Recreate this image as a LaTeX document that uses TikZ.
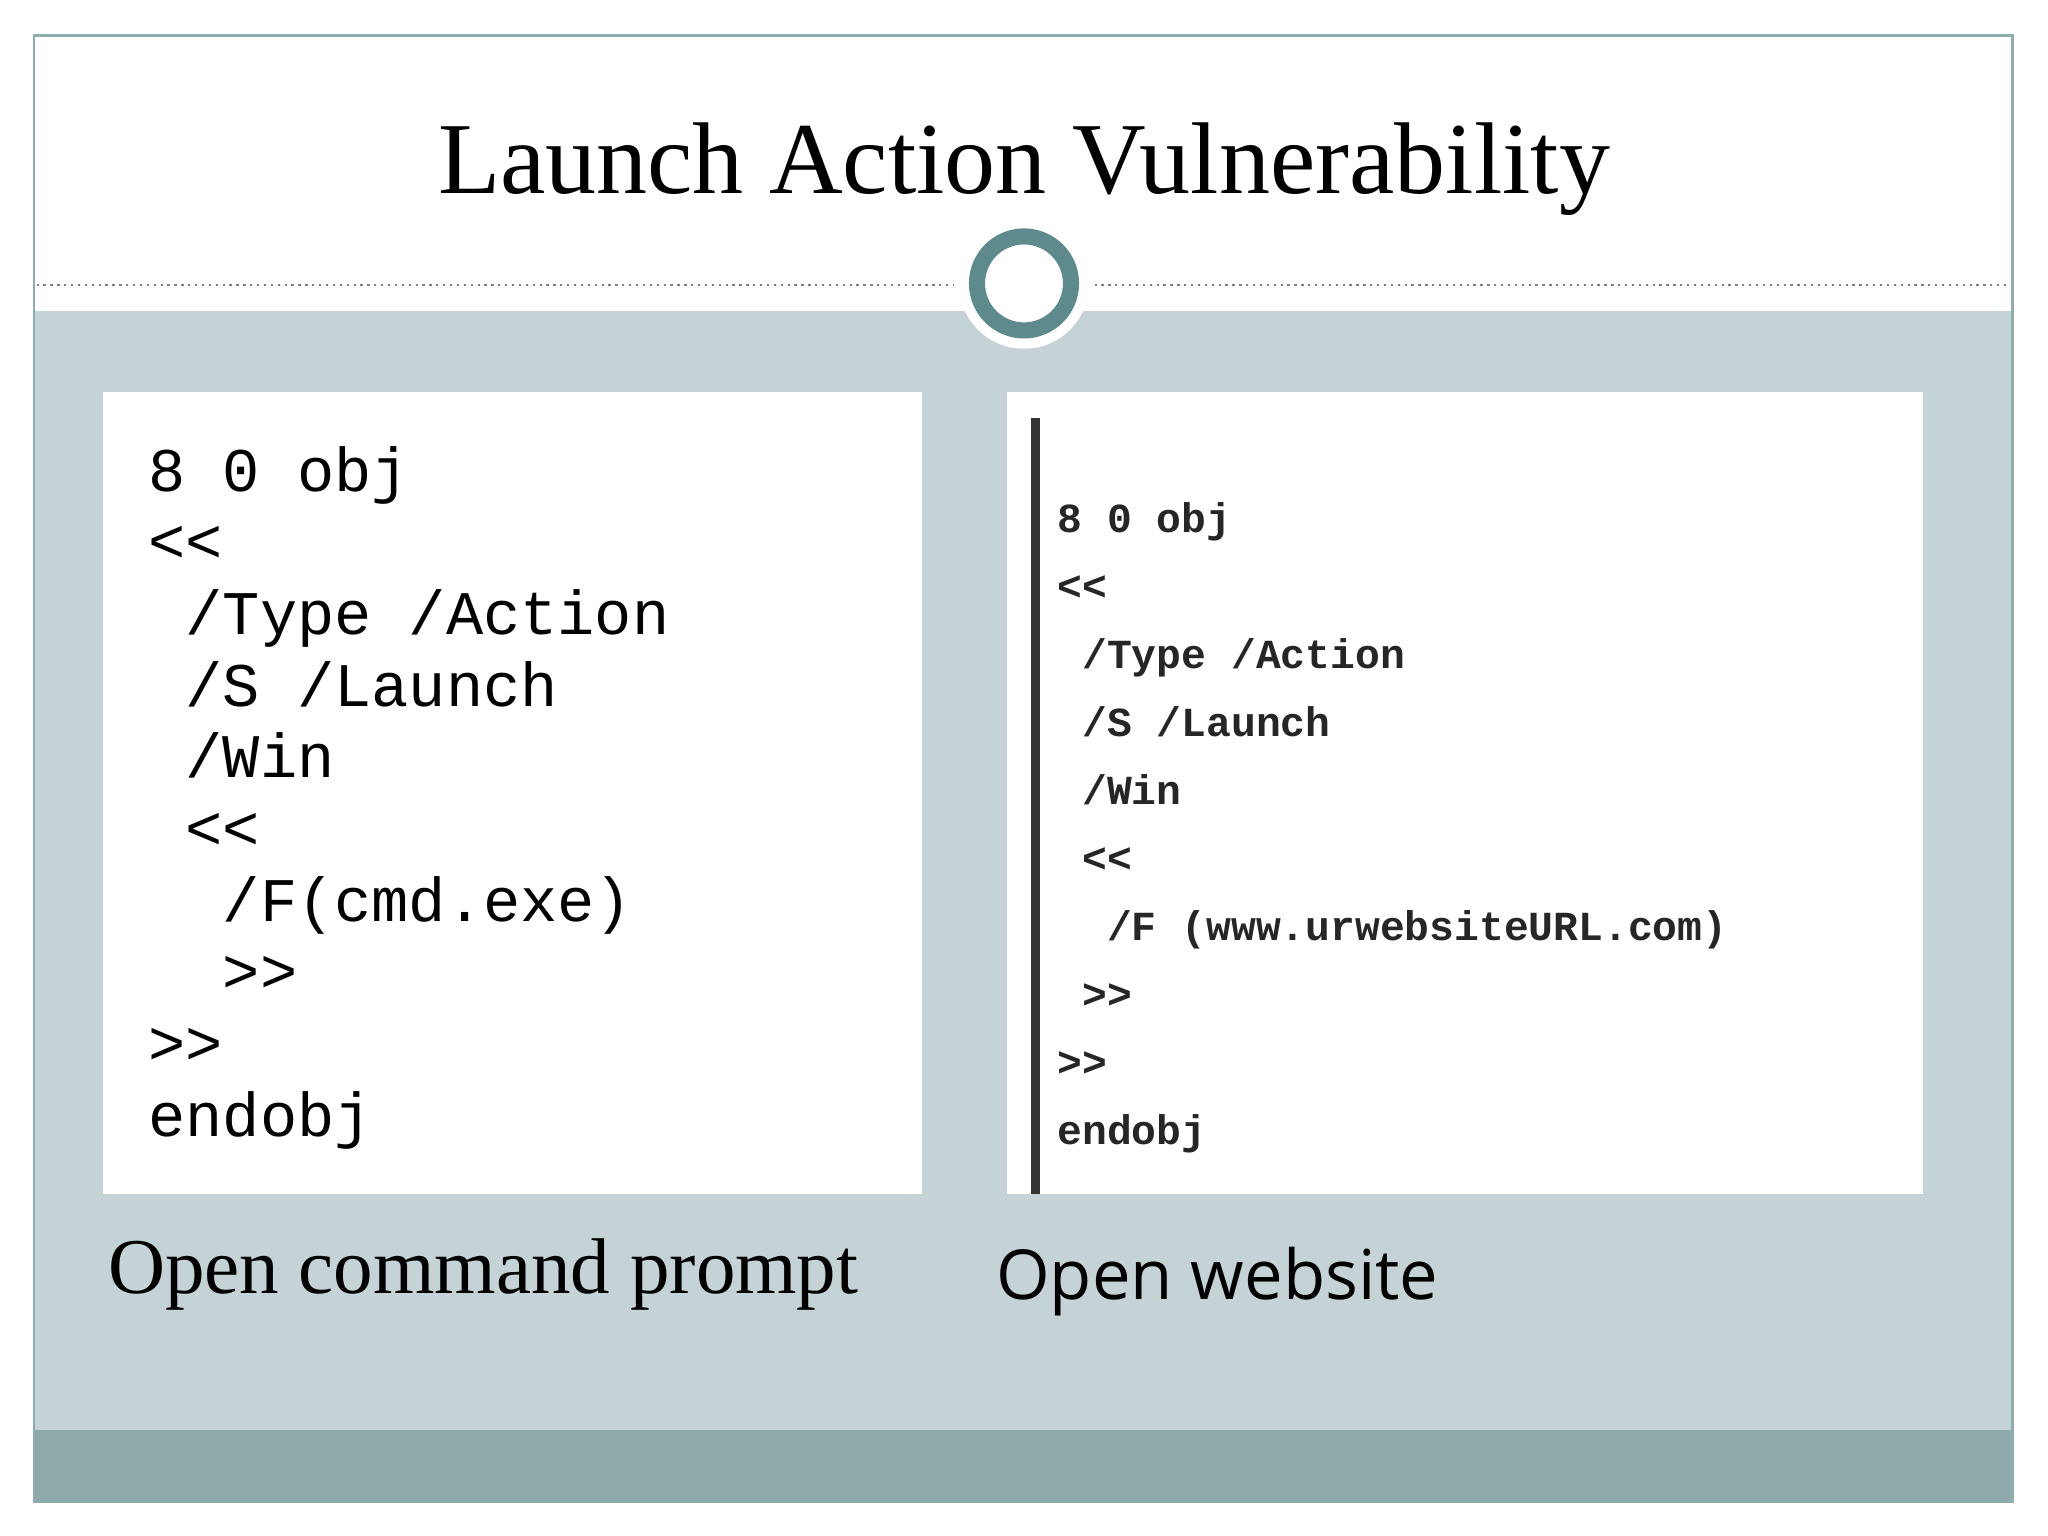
\documentclass[tikz,border=0pt]{standalone}
\usepackage{fontspec}
\setmainfont{Liberation Serif}
\newfontfamily\codefont{Liberation Mono}
\newfontfamily\capsans{Open Sans}
\usetikzlibrary{positioning}
\definecolor{slidebg}{HTML}{C5D3D7}
\definecolor{bandbg}{HTML}{8EAAAB}
\definecolor{ringcol}{HTML}{5F8A8B}

\begin{document}
\begin{tikzpicture}[
    x=0.01cm, y=-0.01cm,
    panel/.style={fill=white, draw=none},
    codeL/.style={anchor=north west, inner sep=0pt, align=left, font=\codefont\fontsize{13.5}{15.6}\selectfont},
    codeR/.style={anchor=north west, inner sep=0pt, align=left, font=\codefont\bfseries\fontsize{9}{14.8}\selectfont, text=black!85},
    caption/.style={anchor=base west, inner sep=0pt}
]
    \useasboundingbox (0,0) rectangle (1568,1176);
    \fill[white] (0,0) rectangle (1568,1176);
    % Slide body
    \fill[slidebg] (26,238) rectangle (1541,1095);
    \fill[bandbg] (26,1095) rectangle (1541,1150);
    \draw[ringcol!70, line width=0.6pt] (26,27) rectangle (1541,1150);
    \draw[gray, densely dotted, line width=0.5pt] (28,218) -- (730,218);
    \draw[gray, densely dotted, line width=0.5pt] (838,218) -- (1538,218);
    % Ring
    \fill[white] (784,217) circle (50);
    \draw[ringcol, line width=3.5pt] (784,217) circle (36);
    % Title
    \node[font=\fontsize{22.2}{26}\selectfont, anchor=base] (title) at (784,148) {Launch Action Vulnerability};
    % Panels
    \fill[panel] (79,300) rectangle (706,914);
    \fill[panel] (771,300) rectangle (1472,914);
    \draw[black!80, line width=2pt] (793,320) -- (793,914);
    % Code
    \node[codeL] (cmdcode) at (113,341) {8~0~obj\\<<\\~/Type~/Action\\~/S~/Launch\\~/Win\\~<<\\~~/F(cmd.exe)\\~~>>\\>>\\endobj};
    \node[codeR] (webcode) at (809,384) {8~0~obj\\<<\\~/Type~/Action\\~/S~/Launch\\~/Win\\~<<\\~~/F~(www.urwebsiteURL.com)\\~>>\\>>\\endobj};
    % Captions
    \node[caption, font=\fontsize{17.2}{20}\selectfont] (cmdcap) at (82,990) {Open command prompt};
    \node[caption, font=\capsans\fontsize{15}{19}\selectfont] (webcap) at (762,995) {Open website};
\end{tikzpicture}
\end{document}
